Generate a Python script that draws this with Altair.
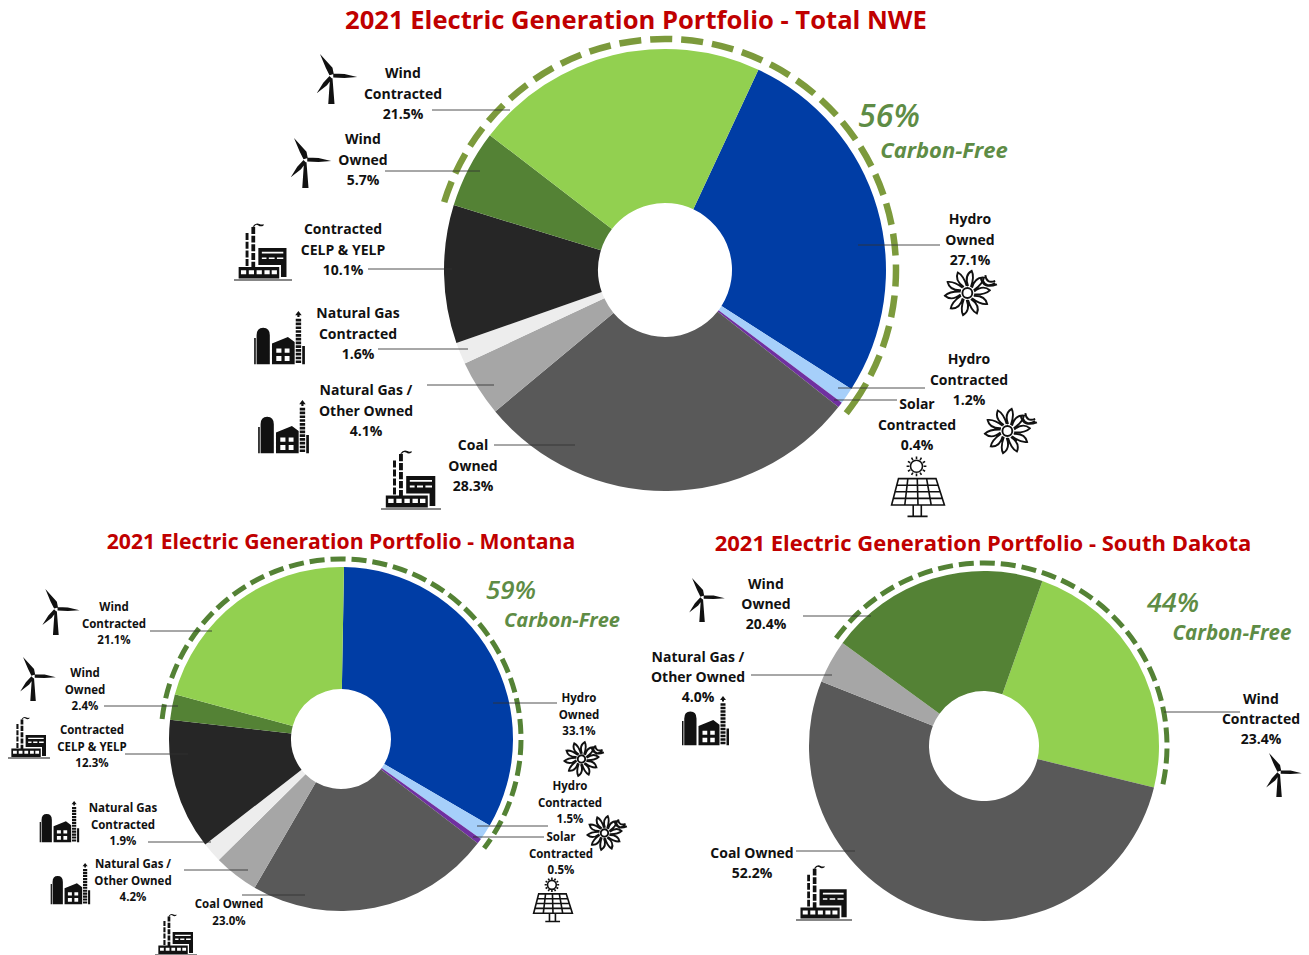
import math
import altair as alt
import pandas as pd

FONT = "Open Sans"
RED = "#C00000"
GREEN_TEXT = "#5E8C45"
TAU = 2 * math.pi

COLORS = {
    "Hydro Owned": "#003DA5",
    "Hydro Contracted": "#A6CFFA",
    "Solar Contracted": "#7030A0",
    "Coal Owned": "#595959",
    "Natural Gas / Other Owned": "#A6A6A6",
    "Natural Gas Contracted": "#EDEDED",
    "Contracted CELP & YELP": "#262626",
    "Wind Owned": "#548235",
    "Wind Contracted": "#92D050",
}

# Portfolio shares in percent, clockwise from the first wedge
NWE_NAMES = ["Hydro Owned", "Hydro Contracted", "Solar Contracted", "Coal Owned",
             "Natural Gas / Other Owned", "Natural Gas Contracted",
             "Contracted CELP & YELP", "Wind Owned", "Wind Contracted"]
NWE_VALUES = [27.1, 1.2, 0.4, 28.3, 4.1, 1.6, 10.1, 5.7, 21.5]
MT_NAMES = NWE_NAMES
MT_VALUES = [33.1, 1.5, 0.5, 23.0, 4.2, 1.9, 12.3, 2.4, 21.1]
SD_NAMES = ["Wind Contracted", "Coal Owned", "Natural Gas / Other Owned", "Wind Owned"]
SD_VALUES = [23.4, 52.2, 4.0, 20.4]

# Wrapped label text above each value
LINES = {
    "Hydro Owned": ["Hydro", "Owned"],
    "Hydro Contracted": ["Hydro", "Contracted"],
    "Solar Contracted": ["Solar", "Contracted"],
    "Coal Owned": ["Coal", "Owned"],
    "Natural Gas / Other Owned": ["Natural Gas /", "Other Owned"],
    "Natural Gas Contracted": ["Natural Gas", "Contracted"],
    "Contracted CELP & YELP": ["Contracted", "CELP & YELP"],
    "Wind Owned": ["Wind", "Owned"],
    "Wind Contracted": ["Wind", "Contracted"],
}
COAL_ONE_LINE = ["Coal Owned"]

# Label anchors: centre x, first line y
NWE_LABELS = {
    "Wind Contracted": (403, 74), "Wind Owned": (363, 140),
    "Contracted CELP & YELP": (343, 230), "Natural Gas Contracted": (358, 314),
    "Natural Gas / Other Owned": (366, 391), "Coal Owned": (473, 446),
    "Hydro Owned": (970, 220), "Hydro Contracted": (969, 360),
    "Solar Contracted": (917, 405),
}
MT_LABELS = {
    "Wind Contracted": (114, 608), "Wind Owned": (85, 674),
    "Contracted CELP & YELP": (92, 731), "Natural Gas Contracted": (123, 809),
    "Natural Gas / Other Owned": (133, 865), "Coal Owned": (229, 905),
    "Hydro Owned": (579, 699), "Hydro Contracted": (570, 787),
    "Solar Contracted": (561, 838),
}
SD_LABELS = {
    "Wind Owned": (766, 585), "Natural Gas / Other Owned": (698, 658),
    "Coal Owned": (752, 854), "Wind Contracted": (1261, 700),
}

# Leader lines: x start, x end, y
NWE_LEADERS = [(432, 510, 110), (385, 480, 171), (368, 452, 269), (378, 468, 349),
               (427, 494, 385), (494, 575, 445), (858, 940, 245), (838, 925, 388),
               (834, 897, 400)]
MT_LEADERS = [(150, 212, 631), (104, 178, 706), (125, 188, 754), (148, 211, 842),
              (184, 248, 870), (242, 305, 895), (493, 557, 703), (477, 548, 826),
              (473, 544, 837)]
SD_LEADERS = [(803, 871, 616), (751, 832, 675), (796, 855, 851), (1164, 1240, 712)]

# Pictograms: kind, centre x, centre y, box width
ICONS = [
    ("turbine", 337, 79, 50), ("turbine", 311, 163, 50),
    ("factory", 263, 251, 58), ("plant", 279, 338, 54), ("plant", 283, 427, 54),
    ("factory", 411, 479, 60), ("hydro", 972, 293, 58), ("hydro", 1012, 431, 58),
    ("solar", 918, 487, 60),
    ("turbine", 61, 612, 46), ("turbine", 38, 679, 44),
    ("factory", 29, 737, 42), ("plant", 59, 822, 42), ("plant", 70, 884, 42),
    ("factory", 176, 934, 42), ("hydro", 585, 759, 44), ("hydro", 608, 833, 44),
    ("solar", 553, 900, 44),
    ("turbine", 707, 600, 44), ("turbine", 1284, 775, 44),
    ("plant", 705, 721, 50), ("factory", 824, 892, 56),
]


def fmt(v):
    return f"{v:.3f}".rstrip("0").rstrip(".")


def pol(cx, cy, r, a):
    return f"{fmt(cx + r * math.cos(a))} {fmt(cy + r * math.sin(a))}"


def circle(cx, cy, r):
    return (f"M{fmt(cx - r)} {fmt(cy)}A{r} {r} 0 1 1 {fmt(cx + r)} {fmt(cy)}"
            f"A{r} {r} 0 1 1 {fmt(cx - r)} {fmt(cy)}Z")


def hole(x0, y0, x1, y1):
    # counter-clockwise so the rectangle cuts out of a clockwise body
    return f"M{x0} {y0}V{y1}H{x1}V{y0}Z"


def turbine_path():
    return ("M-.3 -.15L-.45 -.45L-.68 -1L-.18 -.45L-.13 -.2Z"
            "M-.15 -.22L.3 -.2L.81 -.08L.3 -.04L-.15 -.06Z"
            "M-.2 -.02L-.4 .25L-.81 .57L-.55 .15L-.3 -.12Z"
            "M-.18 -.03L-.1 1L-.35 1L-.28 -.03Z")


def factory_path():
    p = "M-.84 .55H.56V.95H-.84Z"
    for x in (-.76, -.49, -.22, .05, .3):
        p += hole(x, .66, round(x + .18, 2), .8)
    p += "M-.16 -.1H.81V.9H.62V.48H-.16Z"
    p += hole(-.04, .03, .7, .09) + hole(-.04, .22, .12, .28) + hole(.2, .22, .4, .28) + hole(.48, .22, .7, .28)
    for x0, x1, top in ((-.6, -.5, -.62), (-.4, -.27, -.83)):
        y = top
        while y < .5:
            p += f"M{x0} {fmt(y)}H{x1}V{fmt(min(y + .24, .55))}H{x0}Z"
            y += .3
    p += "M-.36 -.84Q-.25 -1 -.12 -.93Q-.04 -.89 .02 -.93V-.88Q-.08 -.82 -.16 -.88Q-.25 -.94 -.3 -.84Z"
    p += "M-1 .98H1V1.02H-1Z"
    return p


def plant_path():
    p = "M-.83 .97V-.1Q-.83 -.38 -.585 -.38Q-.34 -.38 -.34 -.1V.97Z"
    p += "M-.26 .97V.2L.33 -.04L.58 .15V.97Z"
    for x0, x1 in ((-.1, .09), (.21, .39)):
        for y0, y1 in ((.39, .55), (.67, .85)):
            p += hole(x0, y0, x1, y1)
    y = -.71
    while y < .95:
        p += f"M.62 {fmt(y)}H.82V{fmt(y + .1)}H.62Z"
        y += .14
    p += "M.72 -1L.84 -.84H.76V-.78H.68V-.84H.6Z"
    p += "M.86 .3H.96V.97H.86Z M-.92 .0H-.86V.97H-.92Z"
    return p


def hydro_path():
    cx, cy = -.16, 0
    p = circle(cx, cy, .17)
    for k in range(10):
        a = k * TAU / 10
        p += (f"M{pol(cx, cy, .24, a - .22)}Q{pol(cx, cy, .62, a - .5)} {pol(cx, cy, .78, a - .12)}"
              f"Q{pol(cx, cy, .62, a + .1)} {pol(cx, cy, .24, a + .22)}")
    p += "M.3 -.52Q.4 -.12 .86 -.3M.46 -.62Q.5 -.3 .8 -.42M.38 -.42Q.5 -.16 .8 -.34"
    return p


def solar_path():
    p = circle(-.05, -.69, .2)
    for k in range(12):
        a = k * TAU / 12
        p += f"M{pol(-.05, -.69, .24, a)}L{pol(-.05, -.69, .33, a)}"
    tl, tr, br, bl = (-.65, -.28), (.6, -.28), (.88, .6), (-.88, .6)
    p += f"M{tl[0]} {tl[1]}L{tr[0]} {tr[1]}L{br[0]} {br[1]}L{bl[0]} {bl[1]}Z"
    for i in range(1, 4):
        t = i / 4
        y = tl[1] + t * (bl[1] - tl[1])
        x0 = tl[0] + t * (bl[0] - tl[0])
        x1 = tr[0] + t * (br[0] - tr[0])
        p += f"M{fmt(x0)} {fmt(y)}L{fmt(x1)} {fmt(y)}"
    for i in range(1, 4):
        t = i / 4
        p += f"M{fmt(tl[0] + t * (tr[0] - tl[0]))} {tl[1]}L{fmt(bl[0] + t * (br[0] - bl[0]))} {bl[1]}"
    p += "M-.16 .6V.95M.11 .6V.95M-.35 .98H.32"
    return p


PATHS = {"turbine": turbine_path(), "factory": factory_path(), "plant": plant_path(),
         "hydro": hydro_path(), "solar": solar_path()}
OUTLINE_WIDTH = {"hydro": 1.9, "solar": 1.6}


def text_layer(rows, size, color="#111111", weight=700, italic=False):
    mark = dict(font=FONT, fontSize=size, fontWeight=weight, color=color,
                align="center", baseline="middle")
    if italic:
        mark["fontStyle"] = "italic"
    return alt.Chart(pd.DataFrame(rows)).mark_text(**mark).encode(
        x=alt.X("x:Q", scale=None, axis=None),
        y=alt.Y("y:Q", scale=None, axis=None),
        text="t:N",
    )


def donut_layers(names, values, cx, cy, radius, inner, start_deg, ring_gap,
                 ring_color, ring_width, dash, gap):
    """Wedges plus the dashed carbon-free arc, on one percent-to-angle scale."""
    start = math.radians(start_deg)
    scale = alt.Scale(domain=[0, 100], range=[start, start + TAU])
    wedge_rows = [{"name": n, "value": v, "rank": i, "fill": COLORS[n]}
                  for i, (n, v) in enumerate(zip(names, values))]
    wedges = alt.Chart(pd.DataFrame(wedge_rows)).mark_arc(radius=radius, radius2=inner).encode(
        x=alt.value(cx), y=alt.value(cy),
        theta=alt.Theta("value:Q", stack=True, scale=scale),
        order=alt.Order("rank:Q"),
        color=alt.Color("fill:N", scale=None),
    )
    # The arc runs from the wind wedges that close the circle through the
    # carbon-free wedges that open it.
    if names[0].startswith("Wind"):
        lead = values[0]
        after = values[-1]
    else:
        lead = sum(values[:3])
        after = sum(values[-2:])
    r = radius + ring_gap
    length = (lead + after) / 100 * TAU * r
    pattern = [dash, gap] * int(length // (dash + gap)) + [dash, 4000]
    ring = alt.Chart(pd.DataFrame([{"a": -after, "b": lead}])).mark_arc(
        radius=r, radius2=r, fillOpacity=0, stroke=ring_color,
        strokeWidth=ring_width, strokeDash=pattern,
    ).encode(
        x=alt.value(cx), y=alt.value(cy),
        theta=alt.Theta("a:Q", stack=None, scale=scale),
        theta2=alt.Theta2("b:Q"),
    )
    return [ring, wedges]


def label_rows(names, values, anchors, step):
    rows = []
    for n, v in zip(names, values):
        x, y = anchors[n]
        one_line = n in COAL_ONE_LINE and anchors is not NWE_LABELS
        lines = [n] if one_line else LINES[n]
        lines = lines + [f"{v:.1f}%"]
        for i, t in enumerate(lines):
            rows.append({"x": x, "y": y + i * step, "t": t})
    return rows


layers = []
layers += donut_layers(NWE_NAMES, NWE_VALUES, 665, 270, 221, 67, 25, 10, "#7C9A3C", 6.5, 22, 9)
layers += donut_layers(MT_NAMES, MT_VALUES, 341, 739, 172, 50, 1, 8, "#548235", 5, 15, 6)
layers += donut_layers(SD_NAMES, SD_VALUES, 984, 746, 175, 55, 19.5, 8, "#548235", 5, 15, 6)

leader_rows = [{"x": a, "x2": b, "y": y} for a, b, y in NWE_LEADERS + MT_LEADERS + SD_LEADERS]
layers.append(
    alt.Chart(pd.DataFrame(leader_rows)).mark_rule(color="#333333", strokeWidth=1, opacity=0.85).encode(
        x=alt.X("x:Q", scale=None, axis=None),
        x2="x2:Q",
        y=alt.Y("y:Q", scale=None, axis=None),
    )
)

for kind, path in PATHS.items():
    rows = [{"x": x, "y": y, "s": w * w} for k, x, y, w in ICONS if k == kind]
    outline = OUTLINE_WIDTH.get(kind, 0)
    layers.append(
        alt.Chart(pd.DataFrame(rows)).mark_point(
            shape=path, filled=not outline, opacity=1, color="#111111",
            strokeWidth=outline,
        ).encode(
            x=alt.X("x:Q", scale=None, axis=None),
            y=alt.Y("y:Q", scale=None, axis=None),
            size=alt.Size("s:Q", scale=None, legend=None),
        )
    )

layers.append(text_layer(label_rows(NWE_NAMES, NWE_VALUES, NWE_LABELS, 20.5), 14))
layers.append(text_layer(label_rows(MT_NAMES, MT_VALUES, MT_LABELS, 16.5), 11.5))
layers.append(text_layer(label_rows(SD_NAMES, SD_VALUES, SD_LABELS, 20), 14))

layers.append(text_layer([{"x": 636, "y": 21, "t": "2021 Electric Generation Portfolio - Total NWE"}], 25.6, RED))
layers.append(text_layer([{"x": 341, "y": 543, "t": "2021 Electric Generation Portfolio - Montana"}], 21.2, RED))
layers.append(text_layer([{"x": 983, "y": 544, "t": "2021 Electric Generation Portfolio - South Dakota"}], 22, RED))

layers.append(text_layer([{"x": 889, "y": 117, "t": "56%"}], 32, GREEN_TEXT, 600, True))
layers.append(text_layer([{"x": 944, "y": 151, "t": "Carbon-Free"}], 22, GREEN_TEXT, 700, True))
layers.append(text_layer([{"x": 511, "y": 591, "t": "59%"}], 26, GREEN_TEXT, 600, True))
layers.append(text_layer([{"x": 562, "y": 621, "t": "Carbon-Free"}], 20, GREEN_TEXT, 700, True))
layers.append(text_layer([{"x": 1173, "y": 604, "t": "44%"}], 27, GREEN_TEXT, 600, True))
layers.append(text_layer([{"x": 1232, "y": 634, "t": "Carbon-Free"}], 20.5, GREEN_TEXT, 700, True))

chart = (
    alt.layer(*layers)
    .resolve_scale(theta="independent")
    .properties(width=1309, height=955, padding=0, background="white")
    .configure_view(stroke=None)
)

chart.save("out.html", embed_options={"renderer": "svg", "actions": False})
